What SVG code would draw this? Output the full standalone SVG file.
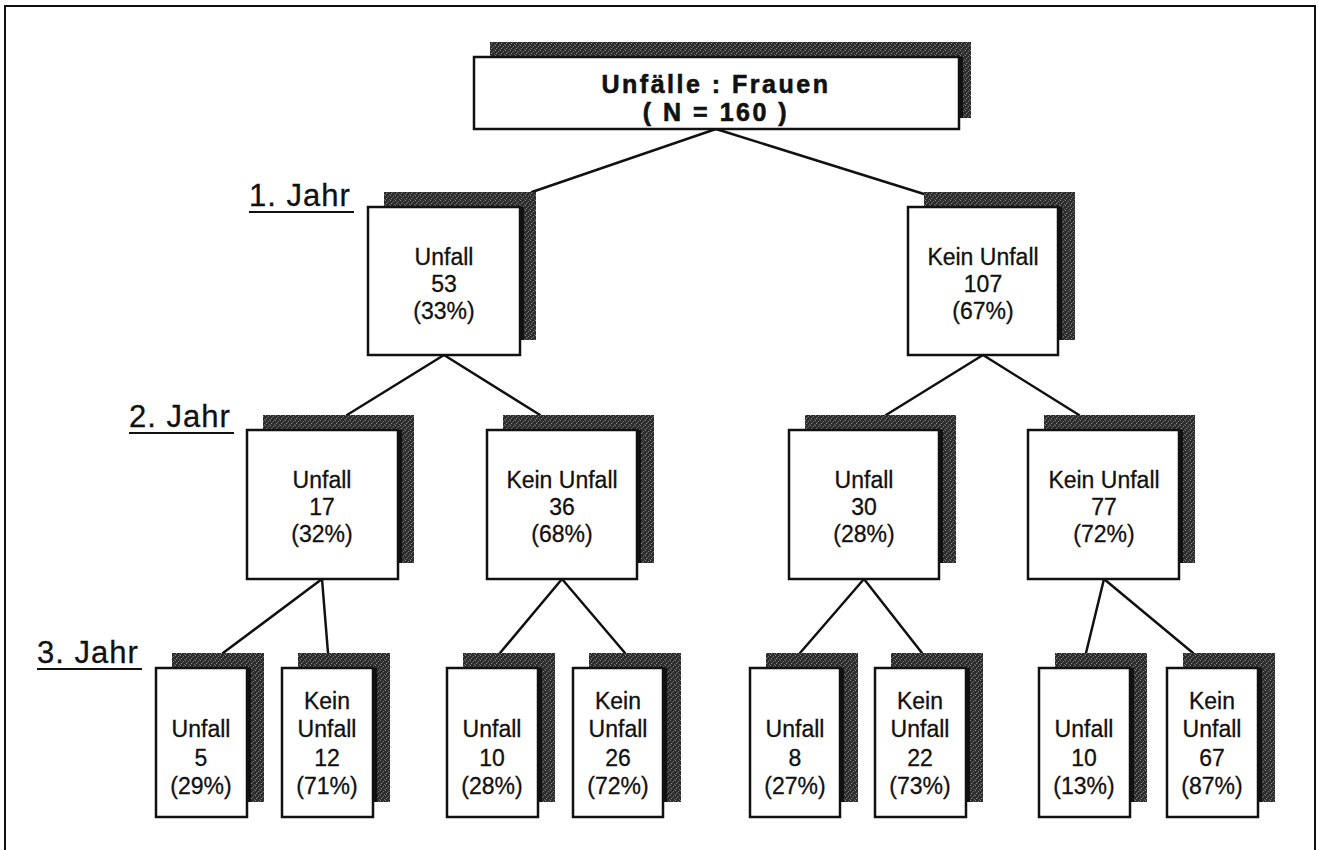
<svg xmlns="http://www.w3.org/2000/svg" width="1319" height="850" viewBox="0 0 1319 850">
  <defs>
    <!-- stippled dark fill used for the drop shadows -->
    <pattern id="stipple" width="5" height="5" patternUnits="userSpaceOnUse">
      <rect width="5" height="5" fill="#2c2c2c"/>
      <rect x="0" y="0" width="1" height="1" fill="#8a8a8a"/>
      <rect x="3" y="1" width="1" height="1" fill="#7a7a7a"/>
      <rect x="1" y="3" width="1" height="1" fill="#909090"/>
      <rect x="4" y="4" width="1" height="1" fill="#6a6a6a"/>
      <rect x="2" y="2" width="1" height="1" fill="#5a5a5a"/>
    </pattern>
    <style>
      .frame { fill: none; stroke: #111; stroke-width: 2; }
      .shadow { fill: url(#stipple); }
      .edge { fill: #111; }
      .box { fill: #fff; stroke: #111; stroke-width: 2.5; }
      .link { stroke: #111; stroke-width: 2.5; fill: none; stroke-linecap: round; }
      .t { font-family: "Liberation Sans", Arial, Helvetica, sans-serif; font-size: 23px; fill: #111; text-anchor: middle; stroke: #111; stroke-width: 0.3; }
      .title { font-family: "Liberation Sans", Arial, Helvetica, sans-serif; font-size: 25px; font-weight: bold; fill: #111; text-anchor: middle; letter-spacing: 2.5px; stroke: #111; stroke-width: 0.6; }
      .lvl { font-family: "Liberation Sans", Arial, Helvetica, sans-serif; font-size: 31px; fill: #111; letter-spacing: 1px; stroke: #111; stroke-width: 0.3; }
      .ul { stroke: #111; stroke-width: 1.8; }
    </style>
  </defs>

  <rect width="1319" height="850" fill="#fff"/>
  <rect class="frame" x="5" y="6" width="1310" height="900"/>

  <!-- year labels -->
  <g id="labels">
    <text class="lvl" x="249" y="206">1. Jahr</text>
    <line class="ul" x1="249" y1="212" x2="354" y2="212"/>
    <text class="lvl" x="129" y="427">2. Jahr</text>
    <line class="ul" x1="129" y1="433" x2="234" y2="433"/>
    <text class="lvl" x="37" y="663">3. Jahr</text>
    <line class="ul" x1="37" y1="669" x2="142" y2="669"/>
  </g>

  <!-- connectors -->
  <g id="connectors">
    <line class="link" x1="716" y1="129" x2="532" y2="192"/>
    <line class="link" x1="716" y1="129" x2="924" y2="194"/>
    <line class="link" x1="444" y1="355" x2="347" y2="415"/>
    <line class="link" x1="444" y1="355" x2="540" y2="415"/>
    <line class="link" x1="983" y1="355" x2="886" y2="415"/>
    <line class="link" x1="983" y1="355" x2="1079" y2="415"/>
    <line class="link" x1="322" y1="579" x2="223" y2="653"/>
    <line class="link" x1="322" y1="579" x2="328" y2="653"/>
    <line class="link" x1="562" y1="579" x2="500" y2="653"/>
    <line class="link" x1="562" y1="579" x2="625" y2="653"/>
    <line class="link" x1="864" y1="579" x2="800" y2="653"/>
    <line class="link" x1="864" y1="579" x2="922" y2="653"/>
    <line class="link" x1="1104" y1="579" x2="1086" y2="653"/>
    <line class="link" x1="1104" y1="579" x2="1193" y2="653"/>
  </g>

  <!-- root -->
  <g id="root">
    <rect class="shadow" x="490" y="42" width="481" height="76"/>
    <rect class="edge" x="959" y="57" width="4" height="61"/>
    <rect class="box" x="474" y="57" width="485" height="72"/>
    <text class="title" x="716" y="93">Unfälle : Frauen</text>
    <text class="title" x="716" y="121">( N = 160 )</text>
  </g>

  <!-- year 1 -->
  <g id="y1-unfall">
    <rect class="shadow" x="384" y="192" width="152" height="148"/>
    <rect class="edge" x="520" y="207" width="4" height="133"/>
    <rect class="box" x="368" y="207" width="152" height="148"/>
    <text class="t" x="444" y="265">Unfall</text>
    <text class="t" x="444" y="292">53</text>
    <text class="t" x="444" y="319">(33%)</text>
  </g>
  <g id="y1-kein">
    <rect class="shadow" x="924" y="192" width="151" height="148"/>
    <rect class="edge" x="1058" y="207" width="4" height="133"/>
    <rect class="box" x="908" y="207" width="150" height="148"/>
    <text class="t" x="983" y="265">Kein Unfall</text>
    <text class="t" x="983" y="292">107</text>
    <text class="t" x="983" y="319">(67%)</text>
  </g>

  <!-- year 2 -->
  <g id="y2-a">
    <rect class="shadow" x="263" y="415" width="151" height="148"/>
    <rect class="edge" x="398" y="430" width="4" height="133"/>
    <rect class="box" x="247" y="430" width="151" height="149"/>
    <text class="t" x="322" y="488">Unfall</text>
    <text class="t" x="322" y="515">17</text>
    <text class="t" x="322" y="542">(32%)</text>
  </g>
  <g id="y2-b">
    <rect class="shadow" x="503" y="415" width="151" height="148"/>
    <rect class="edge" x="637" y="430" width="4" height="133"/>
    <rect class="box" x="487" y="430" width="150" height="149"/>
    <text class="t" x="562" y="488">Kein Unfall</text>
    <text class="t" x="562" y="515">36</text>
    <text class="t" x="562" y="542">(68%)</text>
  </g>
  <g id="y2-c">
    <rect class="shadow" x="805" y="415" width="151" height="148"/>
    <rect class="edge" x="939" y="430" width="4" height="133"/>
    <rect class="box" x="789" y="430" width="150" height="149"/>
    <text class="t" x="864" y="488">Unfall</text>
    <text class="t" x="864" y="515">30</text>
    <text class="t" x="864" y="542">(28%)</text>
  </g>
  <g id="y2-d">
    <rect class="shadow" x="1044" y="415" width="151" height="148"/>
    <rect class="edge" x="1179" y="430" width="4" height="133"/>
    <rect class="box" x="1028" y="430" width="151" height="149"/>
    <text class="t" x="1104" y="488">Kein Unfall</text>
    <text class="t" x="1104" y="515">77</text>
    <text class="t" x="1104" y="542">(72%)</text>
  </g>

  <!-- year 3 -->
  <g id="y3-1">
    <rect class="shadow" x="172" y="653" width="92" height="149"/>
    <rect class="edge" x="247" y="668" width="4" height="134"/>
    <rect class="box" x="156" y="668" width="91" height="149"/>
    <text class="t" x="201" y="737">Unfall</text>
    <text class="t" x="201" y="766">5</text>
    <text class="t" x="201" y="794">(29%)</text>
  </g>
  <g id="y3-2">
    <rect class="shadow" x="298" y="653" width="92" height="149"/>
    <rect class="edge" x="373" y="668" width="4" height="134"/>
    <rect class="box" x="282" y="668" width="91" height="149"/>
    <text class="t" x="327" y="709">Kein</text>
    <text class="t" x="327" y="737">Unfall</text>
    <text class="t" x="327" y="766">12</text>
    <text class="t" x="327" y="794">(71%)</text>
  </g>
  <g id="y3-3">
    <rect class="shadow" x="463" y="653" width="92" height="149"/>
    <rect class="edge" x="538" y="668" width="4" height="134"/>
    <rect class="box" x="447" y="668" width="91" height="149"/>
    <text class="t" x="492" y="737">Unfall</text>
    <text class="t" x="492" y="766">10</text>
    <text class="t" x="492" y="794">(28%)</text>
  </g>
  <g id="y3-4">
    <rect class="shadow" x="589" y="653" width="92" height="149"/>
    <rect class="edge" x="663" y="668" width="4" height="134"/>
    <rect class="box" x="573" y="668" width="90" height="149"/>
    <text class="t" x="618" y="709">Kein</text>
    <text class="t" x="618" y="737">Unfall</text>
    <text class="t" x="618" y="766">26</text>
    <text class="t" x="618" y="794">(72%)</text>
  </g>
  <g id="y3-5">
    <rect class="shadow" x="766" y="653" width="92" height="149"/>
    <rect class="edge" x="840" y="668" width="4" height="134"/>
    <rect class="box" x="750" y="668" width="90" height="149"/>
    <text class="t" x="795" y="737">Unfall</text>
    <text class="t" x="795" y="766">8</text>
    <text class="t" x="795" y="794">(27%)</text>
  </g>
  <g id="y3-6">
    <rect class="shadow" x="891" y="653" width="92" height="149"/>
    <rect class="edge" x="966" y="668" width="4" height="134"/>
    <rect class="box" x="875" y="668" width="91" height="149"/>
    <text class="t" x="920" y="709">Kein</text>
    <text class="t" x="920" y="737">Unfall</text>
    <text class="t" x="920" y="766">22</text>
    <text class="t" x="920" y="794">(73%)</text>
  </g>
  <g id="y3-7">
    <rect class="shadow" x="1055" y="653" width="92" height="149"/>
    <rect class="edge" x="1130" y="668" width="4" height="134"/>
    <rect class="box" x="1039" y="668" width="91" height="149"/>
    <text class="t" x="1084" y="737">Unfall</text>
    <text class="t" x="1084" y="766">10</text>
    <text class="t" x="1084" y="794">(13%)</text>
  </g>
  <g id="y3-8">
    <rect class="shadow" x="1183" y="653" width="92" height="149"/>
    <rect class="edge" x="1258" y="668" width="4" height="134"/>
    <rect class="box" x="1167" y="668" width="91" height="149"/>
    <text class="t" x="1212" y="709">Kein</text>
    <text class="t" x="1212" y="737">Unfall</text>
    <text class="t" x="1212" y="766">67</text>
    <text class="t" x="1212" y="794">(87%)</text>
  </g>
</svg>
